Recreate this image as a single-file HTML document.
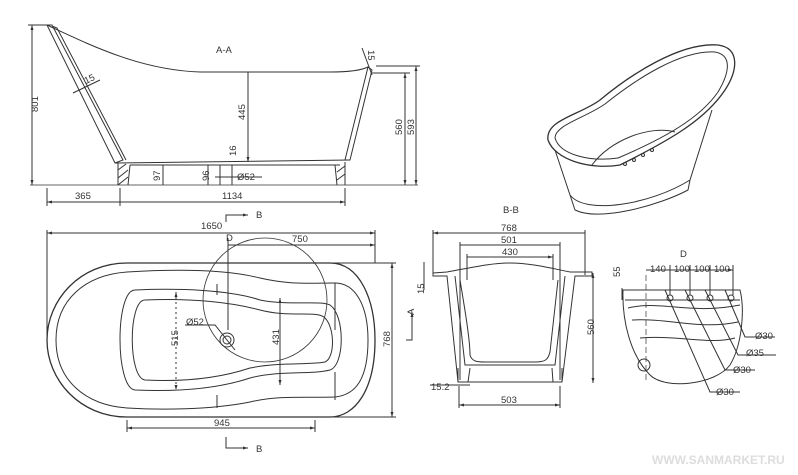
<!DOCTYPE html>
<html><head><meta charset="utf-8"><style>
html,body{margin:0;padding:0;background:#fff;}
svg{display:block;}
text{font-family:"Liberation Sans",sans-serif;font-size:9.5px;fill:#333;}
g.l path, g.l circle{fill:none;}
</style></head><body>
<svg width="798" height="475" viewBox="0 0 798 475" xmlns="http://www.w3.org/2000/svg">
<defs>
<marker id="a" viewBox="0 0 10 10" refX="10" refY="5" markerWidth="5" markerHeight="5" orient="auto-start-reverse"><path d="M0,2 L10,5 L0,8z" fill="#333"/></marker>
</defs>
<g class="l" fill="none" stroke="#333" stroke-width="1">
<!-- A-A section -->
<path d="M47,25 C90,45 140,70 200,72 L330,72 C350,72 362,70 368,67"/>
<path d="M47,25 L52,25 L123,160 L115,163 Z"/>
<path d="M52,26 L57,28 L126,160"/>
<path d="M368,67 L372,70 L350,160 L345,160 Z"/>
<path d="M115,163 L350,160"/>
<path d="M118,163 L118,185 M345,162 L345,185 M130,165 L340,165 M130,165 L128,185 M335,165 L337,185"/>
<path d="M30,185 L418,185" stroke-width="0.8"/>
<path d="M118,170 l8,-6 M118,178 l10,-8 M118,185 l10,-8 M337,172 l8,-6 M337,180 l8,-6"/>
<path d="M32,25 L32,185" marker-start="url(#a)" marker-end="url(#a)"/>
<path d="M28,25 L47,25"/>
<path d="M47,188 L47,206 M120,188 L120,206 M345,188 L345,206"/>
<path d="M47,202 L120,202 M120,202 L345,202" marker-start="url(#a)" marker-end="url(#a)"/>
<path d="M248,72 L248,162" marker-end="url(#a)"/>
<path d="M405,73 L405,185" marker-start="url(#a)" marker-end="url(#a)"/>
<path d="M416,66 L416,185" marker-start="url(#a)" marker-end="url(#a)"/>
<path d="M372,73 L410,73 M376,66 L420,66"/>
<path d="M163,165 L163,185 M208,165 L208,185 M220,165 L220,185 M232,165 L232,185 M215,177 L262,177"/>
<path d="M73,93 L100,80 M362,48 L372,75"/>
<!-- iso tub -->
<path d="M548,140 C545,120 580,115 600,100 C630,75 680,42 718,45 C740,48 738,70 725,90 C705,120 670,140 620,165 C590,170 555,160 548,140 Z" stroke-width="1.3"/>
<path d="M555,138 C555,125 585,118 605,104 C635,80 680,50 715,52 C732,55 730,72 718,92 C700,118 665,138 618,158 C590,162 560,155 555,138 Z"/>
<path d="M555,150 L570,195 C585,215 650,205 690,180 L712,110"/>
<path d="M570,195 L575,210 C600,222 660,205 688,190 L690,180"/>
<path d="M592,165 C610,140 650,125 675,132"/>
<circle cx="625" cy="164" r="1.5"/><circle cx="634" cy="160" r="1.5"/><circle cx="643" cy="155" r="1.5"/><circle cx="652" cy="150" r="1.5"/>
<!-- plan view -->
<path d="M47,233 L375,233" marker-start="url(#a)" marker-end="url(#a)"/>
<path d="M47,230 L47,340 M375,230 L375,263"/>
<path d="M228,245 L375,245" marker-end="url(#a)"/>
<path d="M228,238 L228,330"/>
<path d="M127,263 L330,263 C360,263 375,300 375,340 C375,390 355,417 330,417 L127,417 C80,417 47,380 47,340 C47,300 80,263 127,263 Z" stroke-width="1.3"/>
<path d="M127,272 C160,270 220,268 260,278 C290,285 310,283 335,283 C355,283 368,305 368,340 C368,380 355,395 335,397 C310,398 280,395 250,402 C210,410 160,410 127,408 C85,405 56,380 56,340 C56,300 85,275 127,272 Z"/>
<path d="M135,290 C180,288 230,290 260,300 C290,306 320,300 330,305 C345,315 345,365 330,370 C310,375 280,370 250,378 C220,388 180,392 135,390 C115,388 115,290 135,290 Z"/>
<path d="M145,300 C190,298 230,302 260,310 C290,318 318,310 325,318 C335,328 335,358 325,362 C310,365 280,362 250,368 C220,378 185,382 145,380 C128,378 128,300 145,300 Z"/>
<path d="M335,283 L335,330 M335,372 L335,400"/>
<circle cx="265" cy="300" r="62" stroke-width="0.8"/>
<circle cx="227" cy="340" r="7"/><circle cx="227" cy="340" r="4"/>
<path d="M185,325 L215,325 L235,350"/>
<path d="M176,292 L176,390" marker-start="url(#a)" marker-end="url(#a)" stroke-dasharray="2,3"/>
<path d="M280,298 L280,385" marker-start="url(#a)" marker-end="url(#a)"/>
<path d="M392,263 L392,417" marker-start="url(#a)" marker-end="url(#a)"/>
<path d="M330,263 L396,263 M330,417 L396,417"/>
<path d="M127,420 L127,432 M315,420 L315,432"/>
<path d="M127,428 L315,428" marker-start="url(#a)" marker-end="url(#a)"/>
<path d="M226,222 L226,215 L248,215" marker-end="url(#a)"/>
<path d="M226,437 L226,448 L248,448" marker-end="url(#a)"/>
<path d="M406,340 L412,340 L412,312" marker-end="url(#a)"/>
<path d="M217,284 L217,295 M217,395 L217,408"/>
<!-- B-B -->
<path d="M433,233 L585,233 M460,245 L560,245 M467,257 L553,257" marker-start="url(#a)" marker-end="url(#a)"/>
<path d="M433,230 L433,275 M585,230 L585,275 M460,242 L460,380 M560,242 L560,380 M467,254 L467,280 M553,254 L553,280"/>
<path d="M433,273 L447,272 C470,268 490,263 510,263 C530,263 550,268 570,272 L592,272 L592,276 L575,276 L562,382 L458,382 L447,276 L433,276 Z"/>
<path d="M455,276 L465,365 L555,365 L565,276"/>
<path d="M460,280 C465,310 470,340 470,355 C472,362 478,362 485,362 L535,362 C545,362 548,360 550,352 L558,280"/>
<path d="M458,382 L458,368 M562,382 L562,368 M470,368 L468,382 M552,368 L553,382"/>
<path d="M593,273 L593,383" marker-start="url(#a)" marker-end="url(#a)"/>
<path d="M459,386 L459,408 M560,386 L560,408"/>
<path d="M459,405 L560,405" marker-start="url(#a)" marker-end="url(#a)"/>
<path d="M430,385 L470,385 M424,262 L424,290"/>
<!-- D detail -->
<path d="M623,290 L740,290 C745,310 742,345 730,365 C715,385 665,390 650,375 C630,355 622,320 623,290 Z"/>
<path d="M625,300 L740,300 M628,308 C660,300 690,315 740,305 M632,320 C670,318 700,330 738,322 M640,338 C680,335 710,345 735,338"/>
<path d="M646,275 L646,380" stroke-dasharray="6,3" stroke-width="0.7"/>
<path d="M646,270 L733,270" marker-end="url(#a)"/>
<path d="M670,265 L670,295 M690,265 L690,295 M710,265 L710,295 M733,265 L733,295"/>
<circle cx="670" cy="298" r="3"/><circle cx="690" cy="298" r="3"/><circle cx="710" cy="298" r="3"/><circle cx="731" cy="298" r="3"/>
<path d="M665,290 L710,392 L740,392 M685,290 L725,370 L755,370 M705,290 L738,355 L776,355 M725,290 L745,337 L775,337"/>
<circle cx="644" cy="365" r="6"/>
<path d="M622,288 L622,300"/>
</g>
<g>
<text x="216" y="53">A-A</text>
<text x="38" y="112" transform="rotate(-90 38 112)">801</text>
<text x="86" y="84" transform="rotate(-25 86 84)">15</text>
<text x="368" y="50" transform="rotate(90 368 50)">15</text>
<text x="245" y="120" transform="rotate(-90 245 120)">445</text>
<text x="402" y="135" transform="rotate(-90 402 135)">560</text>
<text x="414" y="135" transform="rotate(-90 414 135)">593</text>
<text x="236" y="156" transform="rotate(-90 236 156)">16</text>
<text x="160" y="181" transform="rotate(-90 160 181)">97</text>
<text x="209" y="181" transform="rotate(-90 209 181)">96</text>
<text x="237" y="180">Ø52</text>
<text x="75" y="199">365</text>
<text x="222" y="199">1134</text>
<text x="256" y="218">B</text>
<text x="201" y="229">1650</text>
<text x="226" y="241">D</text>
<text x="292" y="242">750</text>
<text x="186" y="325">Ø52</text>
<text x="178" y="346" transform="rotate(-90 178 346)">515</text>
<text x="279" y="345" transform="rotate(-90 279 345)">431</text>
<text x="390" y="347" transform="rotate(-90 390 347)">768</text>
<text x="414" y="315" transform="rotate(-90 414 315)">A</text>
<text x="214" y="426">945</text>
<text x="256" y="452">B</text>
<text x="503" y="213">B-B</text>
<text x="501" y="231">768</text>
<text x="501" y="243">501</text>
<text x="502" y="255">430</text>
<text x="424" y="294" transform="rotate(-90 424 294)">15</text>
<text x="594" y="335" transform="rotate(-90 594 335)">560</text>
<text x="431" y="390">15.2</text>
<text x="501" y="403">503</text>
<text x="680" y="257">D</text>
<text x="620" y="277" transform="rotate(-90 620 277)">55</text>
<text x="650" y="272">140</text>
<text x="674" y="272">100</text>
<text x="694" y="272">100</text>
<text x="714" y="272">100</text>
<text x="755" y="339">Ø30</text>
<text x="746" y="356">Ø35</text>
<text x="733" y="373">Ø30</text>
<text x="716" y="395">Ø30</text>
<text x="652" y="464" style="font-size:12px;font-weight:bold;fill:#ddd">WWW.SANMARKET.RU</text>
</g>
</svg>
</body></html>
